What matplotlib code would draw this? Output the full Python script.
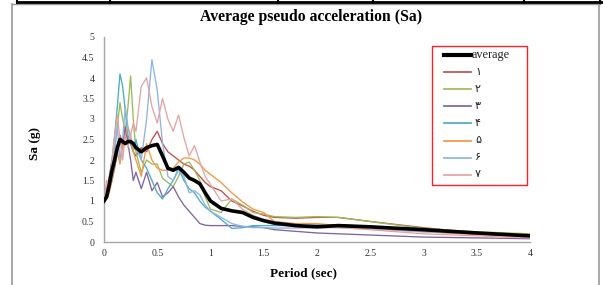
import matplotlib
matplotlib.use("Agg")
import matplotlib.pyplot as plt
from matplotlib.lines import Line2D
from matplotlib.patches import Rectangle

# ---------------- data ----------------
period = [0, 0.025, 0.05, 0.075, 0.1, 0.125, 0.15, 0.175, 0.2, 0.225, 0.25, 0.275, 0.3,
          0.35, 0.4, 0.45, 0.5, 0.55, 0.6, 0.65, 0.7, 0.75, 0.8, 0.85, 0.9, 0.95, 1.0,
          1.1, 1.2, 1.3, 1.4, 1.5, 1.6, 1.8, 2.0, 2.2, 2.5, 3.0, 3.5, 4.0]

average = [1.0, 1.1, 1.4, 1.75, 2.0, 2.3, 2.5, 2.45, 2.4, 2.45, 2.45, 2.4, 2.3,
           2.2, 2.3, 2.35, 2.38, 2.1, 1.8, 1.75, 1.82, 1.7, 1.56, 1.5, 1.42, 1.2, 1.0,
           0.82, 0.76, 0.72, 0.6, 0.52, 0.46, 0.4, 0.37, 0.4, 0.37, 0.3, 0.22, 0.15]

s1 = [1.0, 1.3, 1.6, 2.0, 1.9, 2.3, 2.6, 2.3, 2.7, 2.5, 2.4, 2.2, 2.1,
      2.3, 2.2, 2.5, 2.7, 2.4, 2.2, 2.1, 2.0, 1.9, 1.85, 1.75, 1.6, 1.45, 1.35,
      1.25, 1.0, 0.88, 0.75, 0.65, 0.6, 0.58, 0.6, 0.6, 0.5, 0.35, 0.22, 0.14]

s2 = [1.0, 1.1, 1.3, 1.6, 2.3, 2.8, 3.4, 3.0, 2.7, 3.3, 4.05, 3.0, 2.2,
      1.7, 2.0, 1.9, 1.9, 1.55, 1.45, 1.35, 1.6, 1.9, 1.95, 1.75, 1.5, 1.1, 0.8,
      0.72, 1.05, 0.9, 0.72, 0.68, 0.62, 0.6, 0.62, 0.6, 0.5, 0.33, 0.25, 0.2]

s3 = [1.0, 1.1, 1.3, 1.5, 1.8, 2.2, 2.6, 2.4, 2.8, 2.4, 2.0, 1.5, 1.7,
      1.3, 1.7, 1.25, 1.45, 1.1, 1.2, 1.35, 1.1, 0.9, 0.75, 0.6, 0.45, 0.41, 0.4,
      0.4, 0.4, 0.38, 0.37, 0.35, 0.3, 0.26, 0.22, 0.2, 0.17, 0.12, 0.1, 0.08]

s4 = [1.0, 1.2, 1.5, 2.0, 2.6, 3.3, 4.1, 3.8, 3.2, 2.6, 2.4, 2.2, 2.5,
      2.0, 1.8, 1.5, 1.2, 1.05, 1.3, 1.5, 1.8, 1.5, 1.3, 1.2, 1.0, 0.85, 0.75,
      0.55, 0.33, 0.35, 0.4, 0.4, 0.4, 0.4, 0.42, 0.42, 0.38, 0.28, 0.2, 0.14]

s5 = [1.0, 1.05, 1.2, 1.5, 1.9, 2.2, 1.9, 2.3, 2.6, 2.8, 2.6, 2.2, 2.0,
      1.6, 2.4, 2.0, 1.8, 1.75, 1.75, 1.8, 1.95, 2.05, 2.05, 2.0, 1.9, 1.75, 1.65,
      1.45, 1.2, 0.98, 0.8, 0.72, 0.5, 0.45, 0.45, 0.4, 0.32, 0.25, 0.18, 0.12]

s6 = [1.0, 1.1, 1.4, 1.6, 2.2, 2.8, 2.0, 2.5, 3.3, 2.8, 2.5, 2.4, 2.3,
      2.0, 3.0, 4.45, 3.7, 2.4, 1.6, 1.5, 1.75, 1.6, 1.2, 1.25, 1.15, 0.9, 0.75,
      0.6, 0.45, 0.38, 0.35, 0.35, 0.34, 0.34, 0.35, 0.35, 0.33, 0.25, 0.2, 0.15]

s7 = [1.0, 1.5, 1.3, 2.0, 2.6, 3.1, 2.5, 2.0, 2.6, 2.3, 2.6, 2.9, 2.7,
      3.8, 4.0, 3.3, 2.9, 3.5, 3.0, 2.7, 3.1, 2.55, 2.1, 2.35, 1.95, 1.6, 1.4,
      1.0, 1.05, 0.8, 0.65, 0.55, 0.5, 0.4, 0.38, 0.35, 0.3, 0.2, 0.15, 0.1]

series = [s1, s2, s3, s4, s5, s6, s7]
series_labels = ["\u06f1", "\u06f2", "\u06f3", "\u06f4", "\u06f5", "\u06f6", "\u06f7"]
series_colors = ["#C0504D", "#9BBB59", "#8064A2", "#4BACC6", "#F79646", "#8EB4E3", "#E6A3A2"]

x_ticks = [0, 0.5, 1, 1.5, 2, 2.5, 3, 3.5, 4]
x_tick_labels = ["0", "0.5", "1", "1.5", "2", "2.5", "3", "3.5", "4"]
y_ticks = [0, 0.5, 1, 1.5, 2, 2.5, 3, 3.5, 4, 4.5, 5]
y_tick_labels = ["0", "0.5", "1", "1.5", "2", "2.5", "3", "3.5", "4", "4.5", "5"]

# ---------------- figure ----------------
W, H = 603, 285
fig = plt.figure(figsize=(W / 100, H / 100), dpi=100)
fig.patch.set_facecolor("white")

serif = ["Liberation Serif", "DejaVu Serif"]
mixed = ["Liberation Serif", "DejaVu Sans"]

def fx(px):
    return px / W

def fy(py):
    return 1 - py / H

ax = fig.add_axes([fx(104), fy(242), fx(530) - fx(104), fy(37) - fy(242)])

lines = []
for vals, lab, col in zip(series, series_labels, series_colors):
    ln, = ax.plot(period, vals, color=col, lw=0.95, label=lab, zorder=2)
    lines.append(ln)
avg_line, = ax.plot(period, average, color="black", lw=2.6, label="average", zorder=3)

ax.set_xlim(0, 4)
ax.set_ylim(0, 5)
ax.set_xticks(x_ticks)
ax.set_xticklabels(x_tick_labels, fontfamily=serif, fontsize=7, color="#333333")
ax.set_yticks(y_ticks)
ax.set_yticklabels(y_tick_labels, fontfamily=serif, fontsize=7, color="#333333")
ax.tick_params(axis="y", length=0, pad=7)
ax.tick_params(axis="x", length=0, pad=5)
for s in ["top", "right"]:
    ax.spines[s].set_visible(False)
for s in ["left", "bottom"]:
    ax.spines[s].set_color("#A6A6A6")
    ax.spines[s].set_linewidth(1.0)

fig.text(fx(311), fy(17), "Average pseudo acceleration (Sa)", ha="center", va="center",
         fontfamily=serif, fontweight="bold", fontsize=11.3)
fig.text(fx(303), fy(273), "Period (sec)", ha="center", va="center",
         fontfamily=serif, fontweight="bold", fontsize=9.5)
fig.text(fx(35), fy(143), "Sa (g)", ha="center", va="center", rotation=90,
         fontfamily=serif, fontweight="bold", fontsize=9.5)

# legend (drawn in figure pixel layout, styles taken from the plotted lines)
fig.add_artist(Rectangle((fx(432), fy(185)), fx(527) - fx(432), fy(46) - fy(185),
                         transform=fig.transFigure, fill=True, facecolor="white",
                         edgecolor="#FF2020", lw=1.0, zorder=5))
entries = [avg_line] + lines
for i, ln in enumerate(entries):
    ypx = 55 + 17.1 * i
    fig.add_artist(Line2D([fx(444), fx(471)], [fy(ypx), fy(ypx)], color=ln.get_color(),
                          lw=ln.get_linewidth() + (0.4 if i == 0 else 0.3), zorder=6))
    fig.text(fx(472 if i == 0 else 475), fy(ypx), ln.get_label(), ha="left", va="center",
             fontfamily=mixed, fontsize=8.8 if i == 0 else 8, color="#222222", zorder=6)

# table-cell border around the chart
fig.add_artist(Line2D([fx(12), fx(12)], [fy(3.5), fy(285)], color="#9A9A9A", lw=1.2))
fig.add_artist(Line2D([fx(599), fx(599)], [fy(3.5), fy(285)], color="#9A9A9A", lw=1.2))
fig.add_artist(Line2D([fx(12), fx(600)], [fy(3.5), fy(3.5)], color="#9A9A9A", lw=1.0))
fig.add_artist(Line2D([fx(17), fx(603)], [fy(2), fy(2)], color="black", lw=2.0))
for px in [17, 110, 278, 373, 524, 600]:
    fig.add_artist(Line2D([fx(px), fx(px)], [fy(0), fy(3)], color="black", lw=1.5))

fig.savefig("out.png", dpi=100, facecolor="white")
